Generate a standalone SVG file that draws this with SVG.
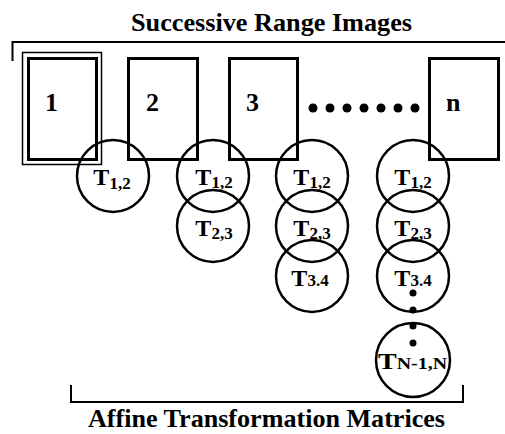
<svg xmlns="http://www.w3.org/2000/svg" width="505" height="434" viewBox="0 0 505 434">
<style>
text{font-family:"Liberation Serif","Times New Roman",serif;font-weight:bold;fill:#000}
.title{font-size:26px}
.num{font-size:26px}
.lbl{font-size:24px;text-anchor:middle}
.sub{font-size:17px}
.box{fill:none;stroke:#000;stroke-width:3}
.thin{fill:none;stroke:#000;stroke-width:1.5}
.circ{fill:none;stroke:#000;stroke-width:2.5}
.br{fill:none;stroke:#000;stroke-width:2}
.dot{fill:#000}
</style>
<rect width="505" height="434" fill="#fff"/>
<text class="title" x="131" y="31" textLength="281" lengthAdjust="spacingAndGlyphs">Successive Range Images</text>
<g id="connectors">
<path class="br" d="M12.5 61 V42 H505"/>
<path class="br" d="M71 385 V402 H463 V385"/>
</g>
<g id="img1">
<rect class="thin" x="22.5" y="52.5" width="79" height="112"/>
<rect class="box" x="28.5" y="58.5" width="68" height="101"/>
<text class="num" x="45" y="111">1</text>
</g>
<g id="img2">
<rect class="box" x="128.5" y="58.5" width="69" height="101"/>
<text class="num" x="146" y="111">2</text>
</g>
<g id="img3">
<rect class="box" x="229.5" y="58.5" width="68" height="101"/>
<text class="num" x="246" y="111">3</text>
</g>
<g id="dots">
<circle class="dot" cx="313" cy="108" r="4.5"/>
<circle class="dot" cx="330" cy="108" r="4.5"/>
<circle class="dot" cx="347" cy="108" r="4.5"/>
<circle class="dot" cx="364" cy="108" r="4.5"/>
<circle class="dot" cx="381" cy="108" r="4.5"/>
<circle class="dot" cx="398" cy="108" r="4.5"/>
<circle class="dot" cx="415" cy="108" r="4.5"/>
</g>
<g id="imgn">
<rect class="box" x="429.5" y="58.5" width="69" height="101"/>
<text class="num" x="446" y="111">n</text>
</g>
<g id="c1r1"><circle class="circ" cx="113" cy="176" r="36"/><text class="lbl" x="112" y="185">T<tspan class="sub" dy="4">1,2</tspan></text></g>
<g id="c2r1"><circle class="circ" cx="213" cy="176" r="36"/><text class="lbl" x="214" y="185">T<tspan class="sub" dy="3">1,2</tspan></text></g>
<g id="c2r2"><circle class="circ" cx="213" cy="226" r="36"/><text class="lbl" x="214" y="236">T<tspan class="sub" dy="3">2,3</tspan></text></g>
<g id="c3r1"><circle class="circ" cx="312" cy="176" r="36"/><text class="lbl" x="312" y="185">T<tspan class="sub" dy="3">1,2</tspan></text></g>
<g id="c3r2"><circle class="circ" cx="312" cy="226" r="36"/><text class="lbl" x="312" y="236">T<tspan class="sub" dy="3">2,3</tspan></text></g>
<g id="c3r3"><circle class="circ" cx="312" cy="276" r="36"/><text class="lbl" x="310" y="286">T<tspan class="sub">3.4</tspan></text></g>
<g id="cnr1"><circle class="circ" cx="413" cy="176" r="36"/><text class="lbl" x="413" y="185">T<tspan class="sub" dy="3">1,2</tspan></text></g>
<g id="cnr2"><circle class="circ" cx="413" cy="226" r="36"/><text class="lbl" x="413" y="236">T<tspan class="sub" dy="3">2,3</tspan></text></g>
<g id="cnr3"><circle class="circ" cx="413" cy="276" r="36"/><text class="lbl" x="413" y="286">T<tspan class="sub">3.4</tspan></text></g>
<g id="vdots">
<circle class="dot" cx="413" cy="293" r="3.5"/>
<circle class="dot" cx="413" cy="310" r="3.5"/>
<circle class="dot" cx="413" cy="326" r="3.5"/>
<circle class="dot" cx="413" cy="343" r="3.5"/>
</g>
<g id="cnr4"><circle class="circ" cx="413" cy="360" r="37"/><text x="378" y="369" font-size="24px" textLength="69" lengthAdjust="spacingAndGlyphs">T<tspan class="sub">N-1,N</tspan></text></g>
<text class="title" x="88" y="427" textLength="357" lengthAdjust="spacingAndGlyphs">Affine Transformation Matrices</text>
</svg>
